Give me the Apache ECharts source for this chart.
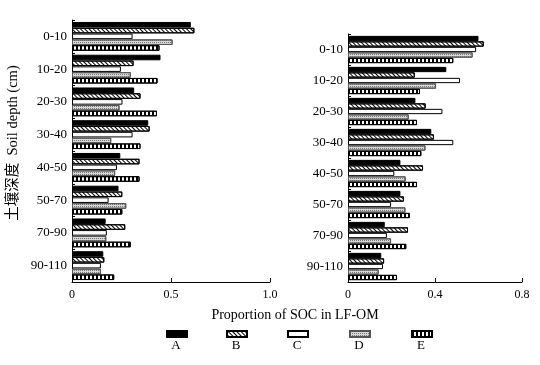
<!DOCTYPE html>
<html>
<head>
<meta charset="utf-8">
<script src="https://cdn.jsdelivr.net/npm/echarts@6/dist/echarts.min.js"></script>
<style>
html,body{margin:0;padding:0;background:#fff;}
#chart{width:540px;height:365px;}
</style>
</head>
<body>
<div id="chart"></div>
<script>
// depth classes (cm)
let depths = ['0-10','10-20','20-30','30-40','40-50','50-70','70-90','90-110'];
let names = ['A','B','C','D','E'];

// left panel values
let leftA = [0.60,0.447,0.314,0.385,0.244,0.235,0.17,0.158];
let leftB = [0.618,0.311,0.346,0.392,0.341,0.254,0.269,0.163];
let leftC = [0.306,0.247,0.255,0.306,0.227,0.185,0.176,0.146];
let leftD = [0.508,0.297,0.24,0.198,0.218,0.274,0.173,0.146];
let leftE = [0.442,0.432,0.429,0.346,0.341,0.254,0.297,0.213];

// right panel values
let rightA = [0.60,0.452,0.31,0.383,0.241,0.241,0.169,0.153];
let rightB = [0.624,0.307,0.357,0.395,0.345,0.257,0.276,0.166];
let rightC = [0.589,0.515,0.434,0.484,0.213,0.198,0.179,0.161];
let rightD = [0.573,0.405,0.279,0.356,0.265,0.264,0.198,0.141];
let rightE = [0.484,0.331,0.317,0.337,0.317,0.284,0.268,0.225];

let leftTicks = [0,0.5,1.0];
let rightTicks = [0,0.4,0.8];

const FONT = '"Liberation Serif", "Times New Roman", serif';

// bar looks
var looks = {
	A: {color:'#000', borderColor:'#000', borderWidth:1},
	B: {color:'#fff', borderColor:'#000', borderWidth:1,
		decal:{symbol:'rect', symbolSize:1, color:'#000', dashArrayX:[1,2], dashArrayY:[10,0], rotation:-Math.PI/4}},
	C: {color:'#fff', borderColor:'#000', borderWidth:1},
	D: {color:'#d8d8d8', borderColor:'#555', borderWidth:1,
		decal:{symbol:'rect', symbolSize:1, color:'#777', dashArrayX:[1,1], dashArrayY:[1,1], rotation:0}},
	E: {color:'#fff', borderColor:'#000', borderWidth:1,
		decal:{symbol:'rect', symbolSize:1, color:'#000', dashArrayX:[2,2], dashArrayY:[10,0], rotation:0}}
};

function makeSeries(idx, vals){
	return names.map(function(n,i){
		return {
			name:n, type:'bar',
			xAxisIndex:idx, yAxisIndex:idx,
			data:vals[i],
			barGap:'4%', barCategoryGap:'12%',
			itemStyle:looks[n],
			silent:true
		};
	});
}

function xAx(idx, ticks){
	return {
		gridIndex:idx, type:'value',
		min:ticks[0], max:ticks[ticks.length-1], interval:ticks[1]-ticks[0],
		axisLine:{show:true, lineStyle:{color:'#000', width:1}},
		axisTick:{show:true, inside:true, length:4, lineStyle:{color:'#000'}},
		axisLabel:{color:'#000', fontFamily:FONT, fontSize:12, margin:7,
			formatter:function(v){ return v===0 ? '0' : v.toFixed(1); }},
		splitLine:{show:false}
	};
}

function yAx(idx){
	return {
		gridIndex:idx, type:'category', data:depths, inverse:true,
		axisLine:{show:true, lineStyle:{color:'#000', width:1}},
		axisTick:{show:true, inside:true, length:3, lineStyle:{color:'#000'}},
		axisLabel:{color:'#000', fontFamily:FONT, fontSize:13, margin:5},
		splitLine:{show:false}
	};
}

// legend: one per item, swatch only; its letter goes below as text
var legendX = [166, 226, 287, 349, 411];
var legends = names.map(function(n,i){
	return {
		data:[{name:n, icon:'rect'}], left:legendX[i], top:330, padding:0,
		itemWidth:20, itemHeight:6, selectedMode:false,
		formatter:function(){ return ''; }
	};
});
var legendText = names.map(function(n,i){
	return {type:'text', x:legendX[i]+10, y:346,
		style:{text:n, fill:'#000', fontSize:13, fontFamily:FONT, align:'center', verticalAlign:'middle'}};
});

let myChart = echarts.init(document.getElementById('chart'), null, {renderer:'canvas'});
let option = {
	animation:false,
	backgroundColor:'#fff',
	grid:[
		{left:72, right:270, top:20, bottom:83},
		{left:348, right:18, top:34, bottom:83}
	],
	xAxis:[xAx(0, leftTicks), xAx(1, rightTicks)],
	yAxis:[yAx(0), yAx(1)],
	legend:legends,
	graphic:[
		{type:'text', x:13, y:143, rotation:Math.PI/2,
			style:{text:'土壤深度  Soil depth (cm)', fill:'#000', fontSize:14.5,
				fontFamily:'"Liberation Serif", "Noto Sans CJK SC", serif',
				align:'center', verticalAlign:'middle'}},
		{type:'text', x:295, y:315,
			style:{text:'Proportion of SOC in LF-OM', fill:'#000', fontSize:14,
				fontFamily:FONT, align:'center', verticalAlign:'middle'}}
	].concat(legendText),
	series:makeSeries(0,[leftA,leftB,leftC,leftD,leftE])
		.concat(makeSeries(1,[rightA,rightB,rightC,rightD,rightE]))
};
myChart.setOption(option);
</script>
</body>
</html>
